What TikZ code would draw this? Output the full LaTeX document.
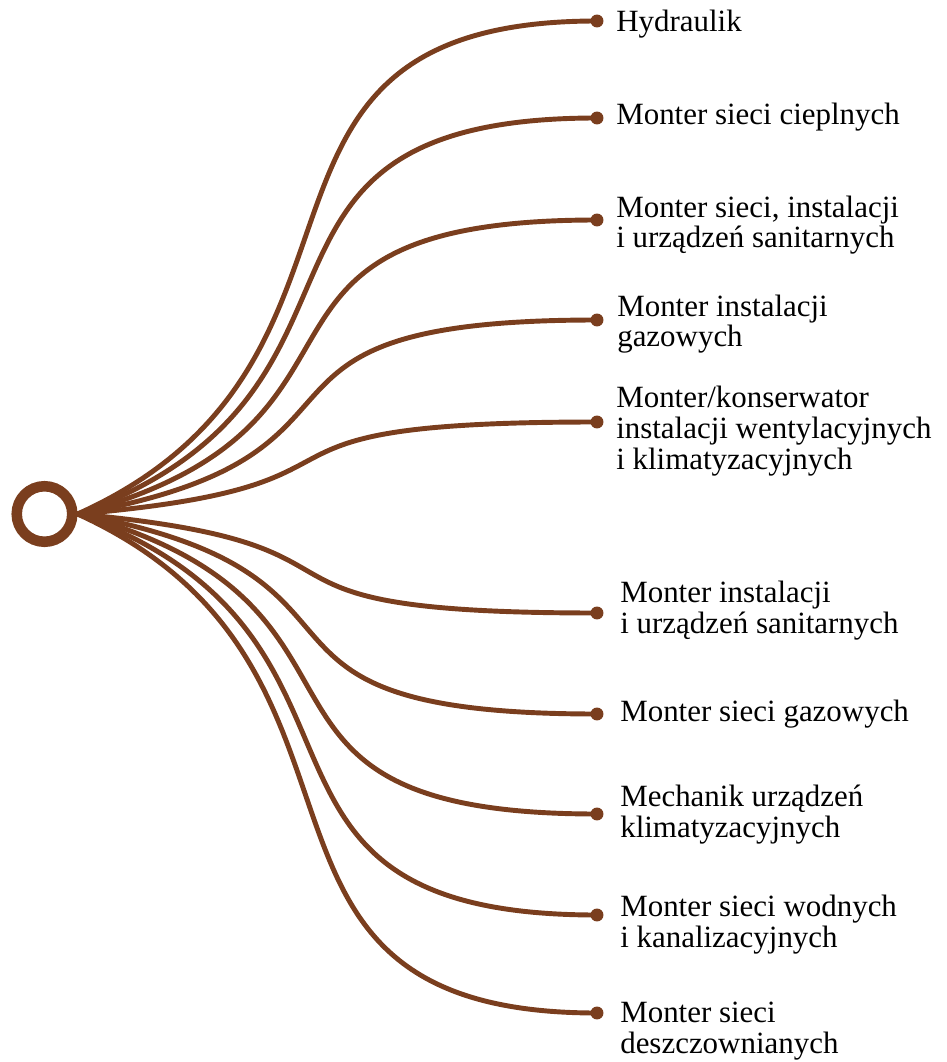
\documentclass[tikz,border=0pt]{standalone}
\usepackage{fontspec}
\setmainfont{Liberation Serif}
\definecolor{brun}{RGB}{122,62,30}
\begin{document}
\begin{tikzpicture}[x=0.025cm,y=-0.025cm]
    \useasboundingbox (0,0) rectangle (946,1062);
    %%%%%%%%%%%%%%%%%%%%%%%%%%%%%%%%%%%%%% Centre
    \tikzstyle{anneau}=[circle,draw=brun,line width=7.5pt,minimum size=39.5pt,inner sep=0pt]
    \node[anneau] (hub) at (44.5,514){};

    %%%%%%%%%%%%%%%%%%%%%%%%%%%%%%%%%%%%%% Points
    \tikzstyle{point}=[circle,fill=brun,minimum size=9.2pt,inner sep=0pt]
    \node[point] (d1) at (597,21){};
    \node[point] (d2) at (597,118){};
    \node[point] (d3) at (597,220){};
    \node[point] (d4) at (597,320){};
    \node[point] (d5) at (597,422){};
    \node[point] (d6) at (597,613){};
    \node[point] (d7) at (597,714){};
    \node[point] (d8) at (597,814){};
    \node[point] (d9) at (597,915){};
    \node[point] (d10) at (597,1013){};

    %%%%%%%%%%%%%%%%%%%%%%%%%%%%%%%%%%%%%% Liens
    \tikzstyle{lien}=[draw=brun,line width=3.5pt]
    \draw[lien] (hub.east) .. controls +(340,-153) and +(-400,0) .. (d1.center);
    \draw[lien] (hub.east) .. controls +(340,-123) and +(-400,0) .. (d2.center);
    \draw[lien] (hub.east) .. controls +(340,-91) and +(-400,0) .. (d3.center);
    \draw[lien] (hub.east) .. controls +(340,-60) and +(-400,0) .. (d4.center);
    \draw[lien] (hub.east) .. controls +(340,-29) and +(-400,0) .. (d5.center);
    \draw[lien] (hub.east) .. controls +(340,31) and +(-400,0) .. (d6.center);
    \draw[lien] (hub.east) .. controls +(340,62) and +(-400,0) .. (d7.center);
    \draw[lien] (hub.east) .. controls +(340,93) and +(-400,0) .. (d8.center);
    \draw[lien] (hub.east) .. controls +(340,124) and +(-400,0) .. (d9.center);
    \draw[lien] (hub.east) .. controls +(340,155) and +(-400,0) .. (d10.center);

    %%%%%%%%%%%%%%%%%%%%%%%%%%%%%%%%%%%%%% Métiers
    \tikzstyle{metier}=[anchor=base west,align=left,inner sep=0pt,font=\fontsize{22}{22}\selectfont]
    \node[metier] (m1) at (616,32){Hydraulik};
    \node[metier] (m2) at (616,125){Monter sieci cieplnych};
    \node[metier] (m3) at (616,248){Monter sieci, instalacji\\i urządzeń sanitarnych};
    \node[metier] (m4) at (617,347){Monter instalacji\\gazowych};
    \node[metier] (m5) at (616,469){Monter/konserwator\\instalacji wentylacyjnych\\i klimatyzacyjnych};
    \node[metier] (m6) at (620,633){Monter instalacji\\i urządzeń sanitarnych};
    \node[metier] (m7) at (620,721){Monter sieci gazowych};
    \node[metier] (m8) at (620,837){Mechanik urządzeń\\klimatyzacyjnych};
    \node[metier] (m9) at (620,947){Monter sieci wodnych\\i kanalizacyjnych};
    \node[metier] (m10) at (620,1053){Monter sieci\\deszczownianych};
\end{tikzpicture}
\end{document}
